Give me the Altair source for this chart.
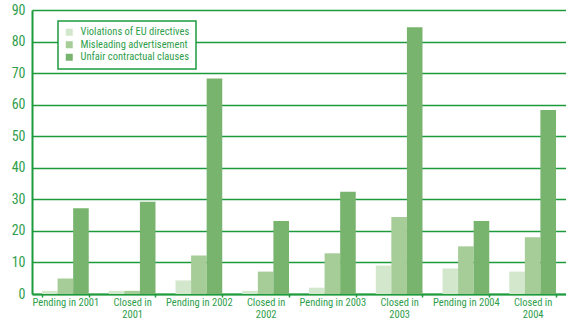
import altair as alt
import pandas as pd

categories = ["Pending in 2001", "Closed in|2001", "Pending in 2002", "Closed in|2002",
              "Pending in 2003", "Closed in|2003", "Pending in 2004", "Closed in|2004"]
series = ["Violations of EU directives", "Misleading advertisement", "Unfair contractual clauses"]
violations = [1.0, 1.0, 4.3, 1.0, 2.0, 9.0, 8.1, 7.1]
misleading = [4.9, 1.0, 12.2, 7.1, 12.9, 24.4, 15.1, 18.0]
unfair = [27.2, 29.2, 68.3, 23.1, 32.4, 84.5, 23.1, 58.3]
colors = ["#d3e7cd", "#a6cd98", "#78b46d"]
y_ticks = [0, 10, 20, 30, 40, 50, 60, 70, 80, 90]

rows = []
for i, c in enumerate(categories):
    for s, vals in zip(series, [violations, misleading, unfair]):
        rows.append({"cat": c, "series": s, "value": vals[i]})
df = pd.DataFrame(rows)

GREEN = "#1d9a3c"
TXT = "#2f9e4c"
FONT = "Liberation Sans Narrow, Roboto Condensed, Open Sans Condensed, DejaVu Sans Condensed, Liberation Sans"

chart = alt.Chart(df).mark_bar().encode(
    x=alt.X("cat:N", sort=categories, title=None,
            scale=alt.Scale(paddingInner=0.3, paddingOuter=0.15),
            axis=alt.Axis(labelExpr="split(datum.label, '|')", labelAngle=0,
                          tickBand="extent", tickColor=GREEN, tickSize=3, tickWidth=1.5,
                          domainColor=GREEN, domainWidth=2, labelColor=TXT,
                          labelFont=FONT, labelFontSize=10.5, labelPadding=0,
                          labelLineHeight=12)),
    xOffset=alt.XOffset("series:N", sort=series),
    y=alt.Y("value:Q", title=None,
            scale=alt.Scale(domain=[0, 90], nice=False),
            axis=alt.Axis(values=y_ticks, grid=True, gridColor=GREEN, gridWidth=1.5,
                          domainColor=GREEN, domainWidth=2, ticks=True, tickSize=0,
                          labelColor=TXT, labelFont=FONT, labelFontSize=14,
                          labelPadding=7)),
    color=alt.Color("series:N", sort=series,
                    scale=alt.Scale(domain=series, range=colors),
                    legend=alt.Legend(title=None, orient="none", legendX=26, legendY=11,
                                      fillColor="white", strokeColor=GREEN,
                                      padding=6, symbolType="square", symbolSize=49,
                                      symbolStrokeWidth=0, labelFont=FONT, labelFontSize=10.5,
                                      labelColor=TXT, rowPadding=1.5, labelOffset=6)),
).properties(
    width=534, height=284,
    padding={"left": 32, "top": 10, "right": 0, "bottom": 28},
    autosize=alt.AutoSizeParams(type="none"),
).configure_view(stroke=None).configure_legend(strokeWidth=1.5)

chart.save("out.html", embed_options={"renderer": "svg", "actions": False})
